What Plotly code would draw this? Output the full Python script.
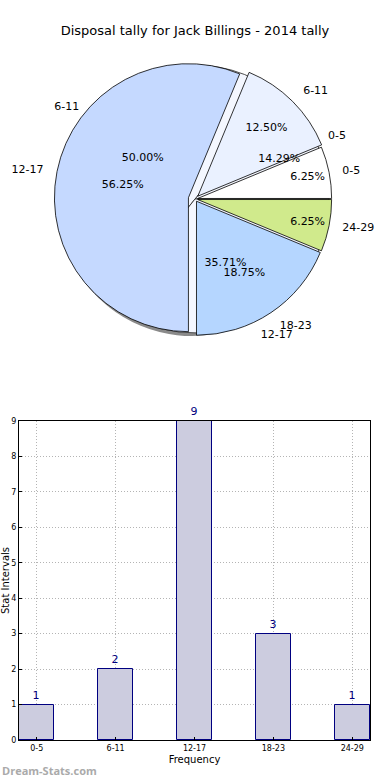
import plotly.graph_objects as go

# ---- data ----
title_text = "Disposal tally for Jack Billings - 2014 tally"
bins = ["0-5", "6-11", "12-17", "18-23", "24-29"]
counts = [1, 2, 9, 3, 1]
pie_a_colors = ["#ffffff", "#eaf1ff", "#c5d9ff", "#b5d6ff", "#d0ea8c"]
pie_a_pull = [0.02, 0.03, 0.05, 0.02, 0.02]

pie_b_labels = ["0-5", "6-11", "12-17"]
pie_b_values = [2, 7, 5]

y_ticks = list(range(0, 10))

FONT = "DejaVu Sans"
W, H = 390, 780

def fx(px):
    return px / W

def fy(py):
    return 1 - py / H

def px_dom(cx, cy, box):
    return dict(x=[fx(cx - box / 2), fx(cx + box / 2)],
                y=[fy(cy + box / 2), fy(cy - box / 2)])

def start_rot(vals):
    # first slice starts at 3 o'clock and slices run counterclockwise
    return 90 - 360.0 * vals[0] / sum(vals)

cx, cy = 195, 199
r = 134
r_lab = 144
dom_a = px_dom(cx, cy, r * 2 * (1 + max(pie_a_pull)))
dom_a_lab = px_dom(cx, cy, r_lab * 2 * (1 + max(pie_a_pull)))
dom_b = px_dom(cx, cy, r * 2)
dom_b_lab = px_dom(cx, cy, r_lab * 2)
dom_s = px_dom(cx - 3, cy + 3, r * 2)

common = dict(sort=False, direction="counterclockwise", automargin=False,
              showlegend=False, hoverinfo="skip")
rot_a = start_rot(counts)
rot_b = start_rot(pie_b_values)
clear = "rgba(0,0,0,0)"
lab_font = dict(family=FONT, size=11, color="black")

fig = go.Figure()

# shadow
fig.add_trace(go.Pie(labels=pie_b_labels, values=pie_b_values, domain=dom_s, rotation=rot_b,
                     marker=dict(colors=["#8a8a8a"] * 3, line=dict(width=0)),
                     textinfo="none", **common))
# pie B base
fig.add_trace(go.Pie(labels=pie_b_labels, values=pie_b_values, domain=dom_b, rotation=rot_b,
                     marker=dict(colors=["#f4f7ff"] * 3, line=dict(color="#222", width=0.8)),
                     textinfo="none", **common))
# pie A coloured with inside percentages
fig.add_trace(go.Pie(labels=bins, values=counts, domain=dom_a, pull=pie_a_pull, rotation=rot_a,
                     marker=dict(colors=pie_a_colors, line=dict(color="black", width=0.8)),
                     texttemplate="%{percent:.2%}", textposition="inside",
                     insidetextorientation="horizontal",
                     insidetextfont=lab_font, **common))
# pie A outside labels (slightly larger transparent ring)
fig.add_trace(go.Pie(labels=bins, values=counts, domain=dom_a_lab, pull=pie_a_pull, rotation=rot_a,
                     marker=dict(colors=[clear] * 5, line=dict(width=0)),
                     texttemplate="%{label}", textposition="outside",
                     outsidetextfont=lab_font, **common))
# pie B outside labels
fig.add_trace(go.Pie(labels=pie_b_labels, values=pie_b_values, domain=dom_b_lab, rotation=rot_b,
                     marker=dict(colors=[clear] * 3, line=dict(width=0)),
                     texttemplate="%{label}", textposition="outside",
                     outsidetextfont=lab_font, **common))
# pie B percentages on top
fig.add_trace(go.Pie(labels=pie_b_labels, values=pie_b_values, domain=dom_b, rotation=rot_b,
                     marker=dict(colors=[clear] * 3, line=dict(width=0)),
                     texttemplate="%{percent:.2%}", textposition="inside",
                     insidetextorientation="horizontal",
                     insidetextfont=lab_font, **common))

# bar chart
fig.add_trace(go.Bar(x=list(range(len(bins))), y=counts, width=0.45,
                     marker=dict(color="#ccccdf", line=dict(color="#000080", width=1)),
                     text=[str(c) for c in counts], textposition="outside",
                     textfont=dict(family=FONT, size=11, color="#000080"),
                     cliponaxis=False, showlegend=False,
                     xaxis="x", yaxis="y"))

grid = dict(showgrid=True, gridcolor="#b4b4b4", griddash="1px,2px", gridwidth=1,
            showline=True, linecolor="black", linewidth=1, mirror=True,
            ticks="inside", ticklen=3, tickcolor="black", zeroline=False,
            automargin=False, tickfont=dict(size=8))

fig.update_layout(
    width=W, height=H,
    margin=dict(l=0, r=0, t=0, b=0, autoexpand=False),
    paper_bgcolor="white", plot_bgcolor="white",
    font=dict(family=FONT, color="black"),
    title=dict(text=title_text, x=fx(195), xanchor="center", xref="paper",
               y=fy(30), yanchor="middle",
               font=dict(family=FONT, size=13, color="black")),
    xaxis=dict(domain=[fx(19), fx(370)], range=[-0.225, 4.225],
               tickmode="array", tickvals=list(range(len(bins))), ticktext=bins,
               title=dict(text="Frequency", font=dict(size=10), standoff=4), **grid),
    yaxis=dict(domain=[fy(740), fy(421)], range=[0, 9],
               tickmode="array", tickvals=y_ticks,
               title=dict(text="Stat Intervals", font=dict(size=10), standoff=1), **grid),
    bargap=0,
    annotations=[dict(text="<b>Dream-Stats.com</b>", xref="paper", yref="paper",
                      x=fx(0), y=fy(770), xanchor="left", yanchor="middle",
                      showarrow=False, font=dict(family="Open Sans", size=11, color="#aaaaaa"))],
)

fig.write_html("out.html", config={"displayModeBar": False},
               post_script="document.body.style.margin='0';")
